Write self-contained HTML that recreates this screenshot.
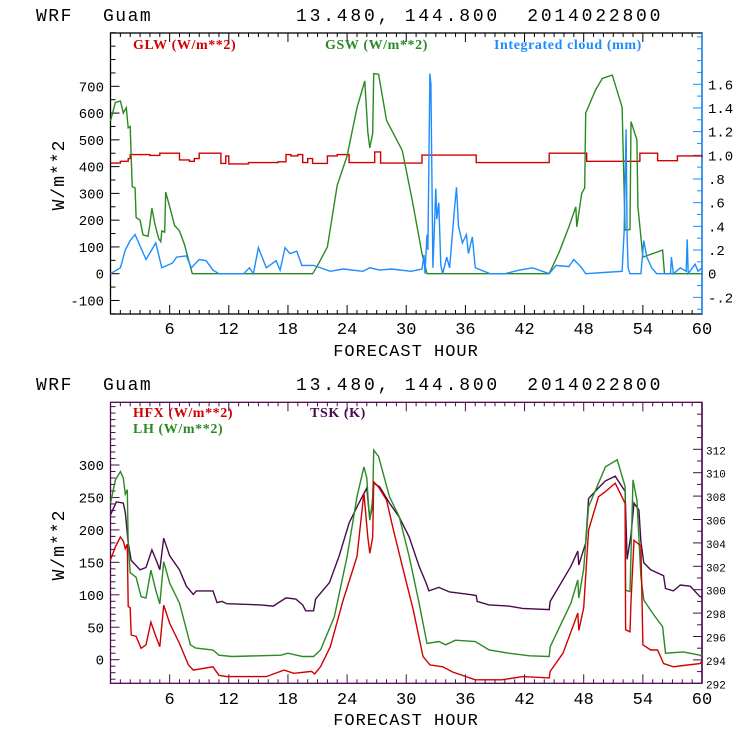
<!DOCTYPE html>
<html><head><meta charset="utf-8">
<style>
html,body{margin:0;padding:0;background:#fff;}
svg{display:block;}
.mono{font-family:"Liberation Mono","DejaVu Sans Mono",monospace;}
.serif{font-family:"Liberation Serif",serif;font-weight:bold;}
</style></head>
<body>
<svg id="chart" width="740" height="740" viewBox="0 0 740 740" xmlns="http://www.w3.org/2000/svg">
  <text class="mono" x="36" y="21" font-size="18" letter-spacing="1.5">WRF</text>
  <text class="mono" x="103" y="21" font-size="18" letter-spacing="1.5">Guam</text>
  <text class="mono" x="296" y="21" font-size="18" letter-spacing="2.8" xml:space="preserve">13.480, 144.800  2014022800</text>
  <text class="mono" x="36" y="390" font-size="18" letter-spacing="1.5">WRF</text>
  <text class="mono" x="103" y="390" font-size="18" letter-spacing="1.5">Guam</text>
  <text class="mono" x="296" y="390" font-size="18" letter-spacing="2.8" xml:space="preserve">13.480, 144.800  2014022800</text>
  <g id="top"></g>
  <g id="bot"></g>
</svg>
<script>
// ---- Top panel data ----
const glwHours = [0,1,1.8,2,4,5,6.7,7,8,8.5,9,11,11.2,11.7,12,14,17,17.8,18.3,19,19.5,20,20.5,22,23,24.2,26.3,26.8,27.4,31.6,37.1,44.5,48.3,53.7,55.5,57.5,60];
const glwValues = [413,420,430,445,442,450,450,425,420,430,450,450,412,440,410,415,418,445,440,445,415,430,412,440,445,415,415,455,413,443,415,450,420,450,422,440,435];
const gswHours = [0,0.5,1,1.3,1.6,1.8,2,2.2,2.5,2.6,3,3.3,3.8,4,4.2,4.5,4.9,5.1,5.2,5.5,5.6,6,6.5,7,7.5,8,8.3,20.5,21,22,23,24,25,25.8,26.1,26.3,26.6,26.7,27.2,28,29.6,30.6,31.6,32.1,44.5,45.5,46.5,47.2,47.3,47.8,48.1,48.2,49.2,49.9,50.9,51.9,52.2,52.7,52.8,53.4,53.5,54,56,56.2,60];
const gswValues = [570,640,645,600,620,545,550,325,320,210,200,145,140,185,245,185,130,120,160,155,305,250,180,160,110,40,0,0,30,100,330,440,620,720,530,470,525,747,745,573,460,275,75,0,0,80,175,250,175,300,320,600,686,730,742,622,163,165,568,500,250,62,88,0,0];
const cloudHours = [0,1,1.5,2,2.5,3.6,4.6,5.2,6.3,6.7,7.7,8.2,9,9.7,10.4,11,13.5,14.1,14.5,15,15.8,16.8,17.2,17.7,18.2,18.9,19.4,20.6,22.3,23.6,25.6,26.3,27.3,28.5,30.5,31.6,31.8,31.9,32.1,32.2,32.4,32.5,32.7,33,33.1,33.3,33.5,33.7,34.1,34.4,34.9,35.1,35.3,35.7,36.1,36.3,36.7,37,38.5,40,41.5,42.8,44.5,45.2,46.5,47,47.8,48.2,50,51.9,52.1,52.3,52.4,52.5,52.7,53.8,54.1,54.4,54.9,55.4,56.8,56.9,57.1,57.8,58.4,58.5,58.6,59.3,59.6,60];
const cloudValues = [0,0.05,0.2,0.28,0.33,0.12,0.26,0.05,0.09,0.14,0.15,0.05,0.12,0.11,0.03,0,0,0.05,0,0.22,0.05,0.11,0.03,0.22,0.17,0.19,0.07,0.07,0.02,0.04,0.02,0.05,0.03,0.04,0.02,0.04,0.16,0,0.33,0.2,1.69,1.6,0.05,0.72,0.46,0.6,0.07,0,0.14,0.05,0.56,0.73,0.4,0.26,0.33,0.17,0.31,0.05,0,0,0.03,0.05,0,0.07,0.06,0.12,0.05,0,0.01,0.02,0.35,1.22,0.33,0.05,0,0,0.28,0.14,0.05,0,0,0.14,0,0.05,0.02,0.29,0,0.08,0.02,0.05];
const leftTicksTop = [-100,0,100,200,300,400,500,600,700];
const rightTicksTop = [-0.2,0,0.2,0.4,0.6,0.8,1.0,1.2,1.4,1.6];
const rightTickLabelsTop = ["-.2","0",".2",".4",".6",".8","1.0","1.2","1.4","1.6"];
const xTicks = [6,12,18,24,30,36,42,48,54,60];

// ---- Bottom panel data ----
const hfxHours = [0,0.5,1,1.3,1.5,1.7,1.8,2,2.1,2.6,3.1,3.6,4.1,4.6,5,5.4,6,7,7.9,8.4,10.4,11,11.8,15.8,17.6,18.6,20.4,20.7,21.3,22.3,23.6,25,25.7,26.1,26.3,26.6,26.7,27.2,28,28.7,29.7,30.7,31.7,32.4,33.7,34.7,37,39.7,41.8,44.5,44.6,45.9,46.9,47.4,47.5,48,48.5,49.5,50.2,51.2,52.2,52.25,52.7,52.8,53.1,53.8,54,54.8,55.5,56.1,57.1,58.1,59.8,60];
const hfxValues = [154,174,189,183,171,178,82,80,38,36,17.5,23,58,36,20,84,56,25,-8,-16,-11,-24,-26,-26,-16,-21,-18,-22,-11,20,92,159,257,189,164,189,274,266,246,200,138,77,5,-8,-11,-19,-31,-31,-26,-28,-18,10,51,72,45,80,200,251,259,272,241,46,43,90,184,175,23,15,15,-6,-11,-9,-6,-2];
const lhHours = [0,0.5,1,1.3,1.5,1.7,1.8,2,2.6,3.1,3.6,4.1,4.6,5,5.4,6,7,8.1,8.6,10.4,11,12.3,17.3,18,19.5,20.6,21.3,22.7,24,25,25.7,26,26.2,26.3,26.6,26.7,27.2,28.3,29.3,30.3,31.3,32.1,33.3,34,35,37,38.4,40.4,42.5,44.5,44.6,46.7,47.4,47.5,48,48.5,49.5,50.2,51.4,52.2,52.25,52.7,53,53.4,53.8,54.1,54.8,55.5,56,56.3,58.1,59.8,60];
const lhValues = [241,277,290,280,255,262,179,134,127,97,95,138,107,86,151,118,87,23,18,15,7,5,7,10,5,5,15,66,159,251,297,280,231,215,246,323,313,251,220,159,87,25,28,23,30,28,15,10,6,5,20,87,123,95,140,236,272,297,308,267,107,105,277,246,128,92,76,61,51,10,12,7,5];
const tskHours = [0,0.6,1.3,1.5,1.8,2.1,3,3.6,4.2,4.7,5,5.4,6,7,7.7,8.4,8.7,10.4,10.8,11.3,11.8,15.2,16.5,17.8,18.8,19.5,19.8,20.6,20.8,22.2,23.2,24.2,25.2,26,26.2,26.3,26.5,26.7,27.3,28.3,29.3,30.3,31.3,32,32.3,33.3,34.4,36.4,37.1,37.2,38.4,40.4,41.8,44.5,44.6,46.7,47.4,47.5,48.2,48.5,49.5,50.2,51.2,52.2,52.4,52.8,53.1,53.6,53.8,54.1,54.8,56.1,56.3,57.1,57.8,58.8,59.8,60];
const tskValues = [306.4,307.5,307.4,306.6,304,302.5,301.7,301.9,303.4,302.4,301.7,304.4,302.9,301.7,300.3,299.6,299.9,299.9,298.9,299,298.8,298.7,298.6,299.3,299.2,298.7,298.2,298.2,299.2,300.6,302.9,305.7,307.4,308.7,306.9,306.1,306.8,309.1,308.8,307.4,306.2,304.5,302,300.6,299.9,300.2,299.8,299.6,299.5,299,298.7,298.6,298.4,298.3,299,302,303.3,302.1,304,307.8,308.7,309.3,309.7,308.4,302.6,304.7,307.4,306.8,304.1,302.3,301.7,301.2,300.1,299.9,300.4,300.3,299.4,299.4];
const leftTicksBot = [0,50,100,150,200,250,300];
const rightTicksBot = [292,294,296,298,300,302,304,306,308,310,312];

const NS = "http://www.w3.org/2000/svg";
function mk(tag, attrs, parent){
  const e = document.createElementNS(NS, tag);
  for (const k in attrs) e.setAttribute(k, attrs[k]);
  parent.appendChild(e);
  return e;
}
const X0 = 110.5, X1 = 702;
const xs = h => X0 + (h/60)*(X1-X0);

const topY = {top:33, bot:314};
const yTopL = v => 273.7 - (v)*0.2677;
const yTopR = v => 273.7 - v*118.4;
const botY = {top:402.3, bot:683.3};
const yBotL = v => 659.7 - v*0.649;
const yBotR = v => 683.3 - (v-292)*11.7;

function linePath(hours, vals, ys, step){
  let d = "";
  for (let i=0;i<hours.length;i++){
    const x = xs(hours[i]).toFixed(1), y = ys(vals[i]).toFixed(1);
    if (i===0) d += "M"+x+","+y;
    else if (step) d += "H"+x+"V"+y;
    else d += "L"+x+","+y;
  }
  return d;
}

function frame(g, T, B, frameColor, rightColor){
  mk("rect",{x:X0,y:T,width:X1-X0,height:B-T,fill:"none",stroke:frameColor,"stroke-width":1.3},g);
  mk("line",{x1:X1,y1:T,x2:X1,y2:B,stroke:rightColor,"stroke-width":1.5},g);
  for (let h=1; h<60; h++){
    const x = xs(h), L = (h%6===0)?9:4;
    mk("line",{x1:x,y1:B,x2:x,y2:B-L,stroke:frameColor,"stroke-width":1},g);
    mk("line",{x1:x,y1:T,x2:x,y2:T+L,stroke:frameColor,"stroke-width":1},g);
  }
}

function leftTicks(g, T, B, ys, major, minorStep, lo, hi, color, labelSize){
  for (let v=lo; v<=hi+1e-9; v+=minorStep){
    const y = ys(v); if (y<T-0.5||y>B+0.5) continue;
    const isMaj = major.some(m=>Math.abs(m-v)<1e-6);
    mk("line",{x1:X0,y1:y,x2:X0+(isMaj?9:5),y2:y,stroke:color,"stroke-width":1},g);
  }
  major.forEach(v=>{
    const t = mk("text",{x:104,y:ys(v)+5,"text-anchor":"end","font-size":labelSize,class:"mono"},g);
    
    
    t.textContent = String(v);
  });
}
function rightTicks(g, T, B, ys, major, labels, minorStep, lo, hi, color, labelSize, lx){
  for (let v=lo; v<=hi+1e-9; v+=minorStep){
    const y = ys(v); if (y<T-0.5||y>B+0.5) continue;
    const isMaj = major.some(m=>Math.abs(m-v)<1e-6);
    mk("line",{x1:X1,y1:y,x2:X1-(isMaj?9:5),y2:y,stroke:color,"stroke-width":1},g);
  }
  major.forEach((v,i)=>{
    const t = mk("text",{x:lx,y:ys(v)+5,"font-size":labelSize,class:"mono"},g);
    
    
    t.textContent = labels[i];
  });
}
function xLabels(g, y){
  xTicks.forEach(h=>{
    const t = mk("text",{x:xs(h),y:y,"text-anchor":"middle","font-size":17,class:"mono"},g);
    
    
    t.textContent = String(h);
  });
}
function series(g, hours, vals, ys, color, name, step){
  const p = mk("path",{d:linePath(hours,vals,ys,step),fill:"none",stroke:color,"stroke-width":1.4,"stroke-linejoin":"miter"},g);
  
  
}
function text(g, x, y, s, size, cls, fill, name, extra){
  const t = mk("text",Object.assign({x:x,y:y,"font-size":size,class:cls,fill:fill},extra||{}),g);
  
  
  t.textContent = s;
  return t;
}

const RED="#d10000", GREEN="#2a8a22", BLUE="#1e8cff", PURPLE="#4a0a4e";

// TOP
const gt = document.getElementById("top");
frame(gt, topY.top, topY.bot, "#000", BLUE);
leftTicks(gt, topY.top, topY.bot, yTopL, leftTicksTop, 50, -150, 900, "#000", 14);
rightTicks(gt, topY.top, topY.bot, yTopR, rightTicksTop, rightTickLabelsTop, 0.1, -0.3, 2.0, BLUE, 14, 708);
xLabels(gt, 334);
series(gt, glwHours, glwValues, yTopL, RED, "glw-line", true);
series(gt, gswHours, gswValues, yTopL, GREEN, "gsw-line", false);
series(gt, cloudHours, cloudValues, yTopR, BLUE, "cloud-line", false);
text(gt, 133, 49, "GLW (W/m**2)", 14, "serif", RED, "legend-glw", {"letter-spacing":"0.6"});
text(gt, 325, 49, "GSW (W/m**2)", 14, "serif", GREEN, "legend-gsw", {"letter-spacing":"0.6"});
text(gt, 494, 49, "Integrated cloud (mm)", 14, "serif", BLUE, "legend-cloud", {"letter-spacing":"0.6"});
text(gt, 64, 175, "W/m**2", 18, "mono", "#000", "y-axis-title-top", {transform:"rotate(-90 64 175)","text-anchor":"middle","letter-spacing":"1"});
text(gt, 406, 356, "FORECAST HOUR", 17, "mono", "#000", "x-axis-title-top", {"text-anchor":"middle","letter-spacing":"1"});

// BOTTOM
const gb = document.getElementById("bot");
frame(gb, botY.top, botY.bot, PURPLE, PURPLE);
leftTicks(gb, botY.top, botY.bot, yBotL, leftTicksBot, 10, -30, 390, PURPLE, 14);
rightTicks(gb, botY.top, botY.bot, yBotR, rightTicksBot, rightTicksBot.map(String), 1, 292, 316, PURPLE, 11, 706);
xLabels(gb, 704);
series(gb, tskHours, tskValues, yBotR, PURPLE, "tsk-line", false);
series(gb, lhHours, lhValues, yBotL, GREEN, "lh-line", false);
series(gb, hfxHours, hfxValues, yBotL, RED, "hfx-line", false);
text(gb, 133, 417, "HFX (W/m**2)", 14, "serif", RED, "legend-hfx", {"letter-spacing":"0.6"});
text(gb, 133, 433, "LH  (W/m**2)", 14, "serif", GREEN, "legend-lh", {"xml:space":"preserve","letter-spacing":"0.6"});
text(gb, 310, 417, "TSK (K)", 14, "serif", PURPLE, "legend-tsk", {"letter-spacing":"0.6"});
text(gb, 64, 545, "W/m**2", 18, "mono", "#000", "y-axis-title-bottom", {transform:"rotate(-90 64 545)","text-anchor":"middle","letter-spacing":"1"});
text(gb, 406, 725, "FORECAST HOUR", 17, "mono", "#000", "x-axis-title-bottom", {"text-anchor":"middle","letter-spacing":"1"});
</script>
</body></html>
